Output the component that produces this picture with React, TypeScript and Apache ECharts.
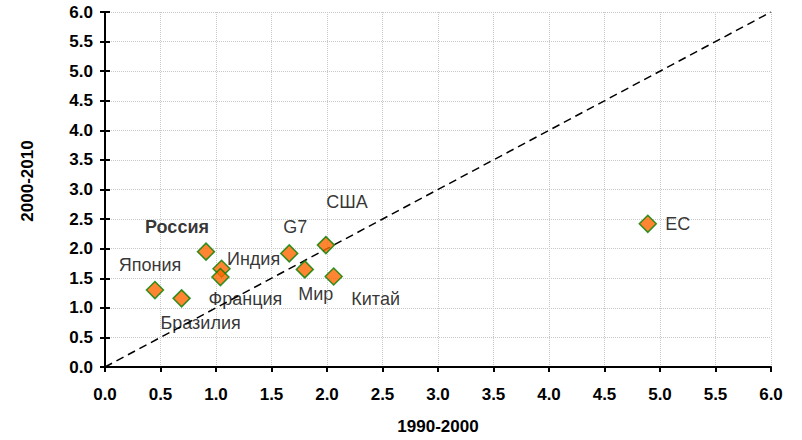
import React, { useEffect, useRef } from "react";
import * as echarts from "echarts";

const names = ["Япония", "Бразилия", "Россия", "Индия", "Франция", "G7", "США", "Мир", "Китай", "ЕС"];
const x1990_2000 = [0.45, 0.69, 0.91, 1.05, 1.04, 1.66, 1.99, 1.80, 2.06, 4.89];
const y2000_2010 = [1.30, 1.16, 1.95, 1.66, 1.52, 1.92, 2.06, 1.65, 1.53, 2.42];
const diagonal = [[0, 0], [6, 6]];
const axisMin = 0;
const axisMax = 6;
const axisStep = 0.5;
const xTitle = "1990-2000";
const yTitle = "2000-2010";

const labelOffsets: Record<string, [number, number]> = {
  "Япония": [-5, -25],
  "Бразилия": [19, 25],
  "Россия": [-29, -25],
  "Индия": [32, -10],
  "Франция": [25, 22],
  "G7": [6, -26],
  "США": [21, -43],
  "Мир": [11, 25],
  "Китай": [42, 23],
  "ЕС": [30, 0],
};

export default function App() {
  const ref = useRef<HTMLDivElement>(null);
  useEffect(() => {
    document.body.style.margin = "0";
    const chart = echarts.init(ref.current!, null, { renderer: "svg" });
    const font = "Arial, Liberation Sans, sans-serif";
    const tickLabel = { fontFamily: font, fontWeight: "bold", fontSize: 17, color: "#000" };
    const axisBase = {
      type: "value",
      min: axisMin,
      max: axisMax,
      interval: axisStep,
    };
    const points = names.map((n, i) => ({
      name: n,
      value: [x1990_2000[i], y2000_2010[i]],
      label: {
        offset: labelOffsets[n],
        fontWeight: n === "Россия" ? "bold" : "normal",
      },
    }));
    chart.setOption({
      animation: false,
      grid: { left: 105, right: 31, top: 12, bottom: 68, containLabel: false },
      graphic: [
        {
          type: "text",
          x: 27,
          y: 181,
          rotation: Math.PI / 2,
          style: {
            text: yTitle,
            fontFamily: font,
            fontWeight: "bold",
            fontSize: 17,
            fill: "#000",
            align: "center",
            verticalAlign: "middle",
          },
        },
      ],
      xAxis: [
        {
          ...axisBase,
          position: "bottom",
          name: xTitle,
          nameLocation: "middle",
          nameGap: 51,
          nameTextStyle: { fontFamily: font, fontWeight: "bold", fontSize: 17, color: "#000" },
          axisLine: { show: true, onZero: false, lineStyle: { color: "#000", width: 2 } },
          axisTick: { show: true, inside: false, length: 5, lineStyle: { color: "#000", width: 2 } },
          axisLabel: { ...tickLabel, margin: 19, formatter: (v: number) => v.toFixed(1) },
          splitLine: { show: true, lineStyle: { color: "#c8c8c8", type: "dotted", width: 1 } },
        },
      ],
      yAxis: [
        {
          ...axisBase,
          position: "left",
          axisLine: { show: true, onZero: false, lineStyle: { color: "#000", width: 2 } },
          axisTick: { show: true, inside: false, length: 5, lineStyle: { color: "#000", width: 2 } },
          axisLabel: { ...tickLabel, margin: 12, formatter: (v: number) => v.toFixed(1) },
          splitLine: { show: true, lineStyle: { color: "#c8c8c8", type: "dotted", width: 1 } },
        },
        {
          ...axisBase,
          position: "left",
          offset: 0,
          axisLine: { show: true, onZero: false, lineStyle: { color: "#000", width: 2 } },
          axisTick: { show: true, inside: true, length: 5, lineStyle: { color: "#000", width: 2 } },
          axisLabel: { show: false },
          splitLine: { show: false },
        },
      ],
      series: [
        {
          type: "line",
          data: diagonal,
          xAxisIndex: 0,
          yAxisIndex: 0,
          symbol: "none",
          silent: true,
          lineStyle: { color: "#000", type: [8, 5], width: 1.5 },
          z: 1,
        },
        {
          type: "scatter",
          data: points,
          xAxisIndex: 0,
          yAxisIndex: 0,
          symbol: "diamond",
          symbolSize: 17,
          itemStyle: { color: "#ff6600", borderColor: "#008000", borderWidth: 1.5 },
          label: {
            show: true,
            position: "inside",
            align: "center",
            verticalAlign: "middle",
            formatter: (p: any) => p.name,
            fontFamily: font,
            fontSize: 18,
            color: "#000",
          },
          z: 3,
        },
      ],
    });
    return () => chart.dispose();
  }, []);
  return <div ref={ref} style={{ width: 802, height: 440 }} />;
}
